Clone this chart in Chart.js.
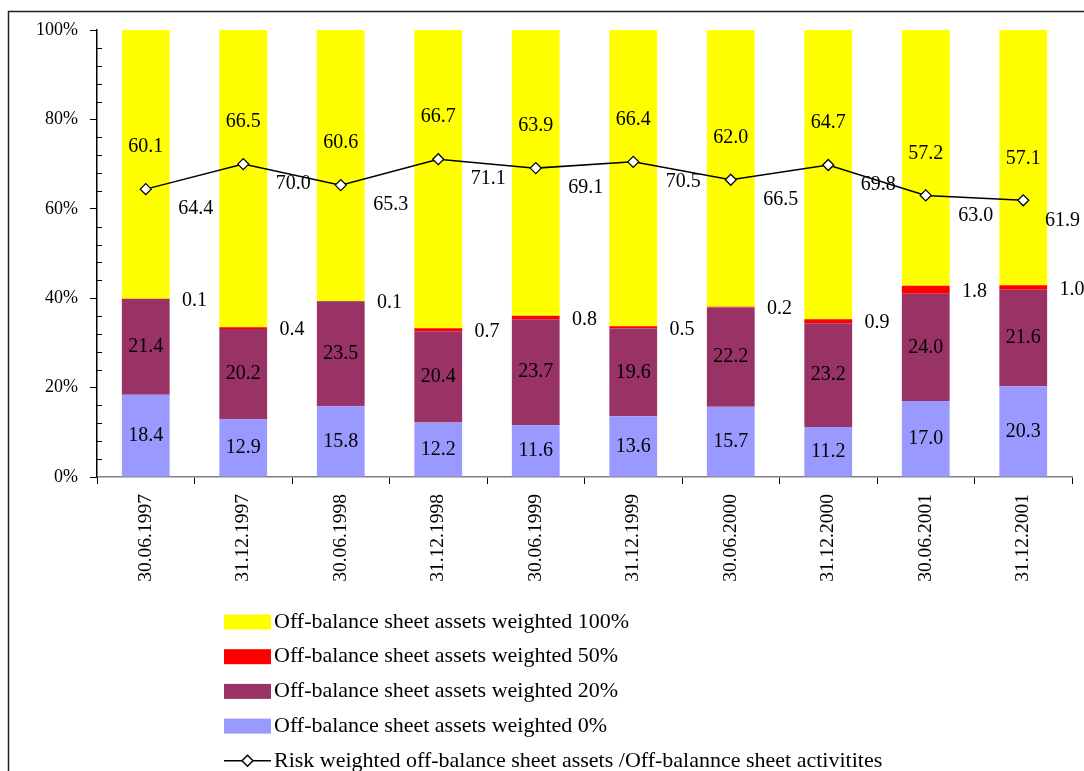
<!DOCTYPE html>
<html>
<head>
<meta charset="utf-8">
<script src="https://cdn.jsdelivr.net/npm/chart.js@4.4.1/dist/chart.umd.min.js"></script>
<style>
  html, body { margin: 0; padding: 0; background: #fff; }
  canvas { display: block; }
</style>
</head>
<body>
<canvas id="chart" width="1084" height="771"></canvas>
<script>
// reporting dates
const dates = ["30.06.1997", "31.12.1997", "30.06.1998", "31.12.1998", "30.06.1999",
               "31.12.1999", "30.06.2000", "31.12.2000", "30.06.2001", "31.12.2001"];

// structure of off-balance sheet assets by risk weight, %
const weighted0   = [18.4, 12.9, 15.8, 12.2, 11.6, 13.6, 15.7, 11.2, 17.0, 20.3];
const weighted20  = [21.4, 20.2, 23.5, 20.4, 23.7, 19.6, 22.2, 23.2, 24.0, 21.6];
const weighted50  = [0.1, 0.4, 0.1, 0.7, 0.8, 0.5, 0.2, 0.9, 1.8, 1.0];
const weighted100 = [60.1, 66.5, 60.6, 66.7, 63.9, 66.4, 62.0, 64.7, 57.2, 57.1];

// risk weighted / total off-balance sheet activities, %
const riskRatio = [64.4, 70.0, 65.3, 71.1, 69.1, 70.5, 66.5, 69.8, 63.0, 61.9];

const SERIF = '"Liberation Serif", "Times New Roman", serif';

// frame round the chart (only top and left edge are in view)
const framePlugin = {
  id: 'frame',
  beforeDraw(chart) {
    const ctx = chart.ctx;
    ctx.save();
    ctx.strokeStyle = '#222';
    ctx.lineWidth = 1.5;
    ctx.beginPath();
    ctx.moveTo(8.5, chart.height);
    ctx.lineTo(8.5, 11.5);
    ctx.lineTo(chart.width, 11.5);
    ctx.stroke();
    ctx.restore();
  }
};

// small inside ticks every 4% on the value axis
const minorTicks = {
  id: 'minorTicks',
  afterDraw(chart) {
    const y = chart.scales.y;
    const ctx = chart.ctx;
    ctx.save();
    ctx.strokeStyle = '#000';
    ctx.lineWidth = 1;
    for (let v = 4; v < 100; v += 4) {
      if (v % 20 === 0) continue;
      const py = Math.round(y.getPixelForValue(v)) + 0.5;
      ctx.beginPath();
      ctx.moveTo(y.right, py);
      ctx.lineTo(y.right + 5, py);
      ctx.stroke();
    }
    ctx.restore();
  }
};

// value labels
const valueLabels = {
  id: 'valueLabels',
  afterDatasetsDraw(chart) {
    const ctx = chart.ctx;
    const lineMeta = chart.getDatasetMeta(4);
    const half = (chart.scales.x.getPixelForTick(1) - chart.scales.x.getPixelForTick(0)) / 2;
    ctx.save();
    ctx.font = '20px ' + SERIF;
    ctx.fillStyle = '#000';
    ctx.textAlign = 'center';
    ctx.textBaseline = 'middle';
    chart.data.datasets.forEach((ds, di) => {
      const meta = chart.getDatasetMeta(di);
      meta.data.forEach((el, i) => {
        const text = ds.data[i].toFixed(1);
        const p = el.getProps(['x', 'y', 'base'], true);
        let x = p.x, y;
        if (ds.type === 'line') {
          const w = ctx.measureText(text).width;
          x = Math.min(p.x + 50, chart.width - w / 2 - 4);
          y = p.y + 20;
        } else if (ds.labelPlace === 'side') {
          x += half; y = (p.y + p.base) / 2 + 2;
        } else if (ds.labelPlace === 'top') {
          y = lineMeta.data[i].y - 42;
        } else {
          y = (p.y + p.base) / 2;
        }
        ctx.fillText(text, x, y);
      });
    });
    ctx.restore();
  }
};

// vertical legend under the axis
const legendList = {
  id: 'legendList',
  afterDraw(chart) {
    const ctx = chart.ctx;
    const ds = chart.data.datasets;
    const items = [ds[3], ds[2], ds[1], ds[0], ds[4]];
    ctx.save();
    ctx.font = '22px ' + SERIF;
    ctx.textBaseline = 'middle';
    ctx.textAlign = 'left';
    items.forEach((d, i) => {
      const cy = 622 + i * 34.7;
      if (d.type === 'line') {
        ctx.strokeStyle = '#000';
        ctx.lineWidth = 1.5;
        ctx.beginPath();
        ctx.moveTo(224, cy);
        ctx.lineTo(271, cy);
        ctx.stroke();
        ctx.fillStyle = '#fff';
        ctx.beginPath();
        ctx.moveTo(247.5, cy - 5.5);
        ctx.lineTo(253, cy);
        ctx.lineTo(247.5, cy + 5.5);
        ctx.lineTo(242, cy);
        ctx.closePath();
        ctx.fill();
        ctx.stroke();
      } else {
        ctx.fillStyle = d.backgroundColor;
        ctx.fillRect(224, cy - 7.5, 47, 15);
      }
      ctx.fillStyle = '#000';
      ctx.fillText(d.label, 274, cy);
    });
    ctx.restore();
  }
};

new Chart(document.getElementById('chart'), {
  type: 'bar',
  data: {
    labels: dates,
    datasets: [
      { label: 'Off-balance sheet assets weighted 0%', data: weighted0,
        backgroundColor: '#9999FF', stack: 'assets' },
      { label: 'Off-balance sheet assets weighted 20%', data: weighted20,
        backgroundColor: '#993366', stack: 'assets' },
      { label: 'Off-balance sheet assets weighted 50%', data: weighted50,
        backgroundColor: '#FF0000', stack: 'assets', labelPlace: 'side' },
      { label: 'Off-balance sheet assets weighted 100%', data: weighted100,
        backgroundColor: '#FFFF00', stack: 'assets', labelPlace: 'top' },
      { type: 'line', label: 'Risk weighted off-balance sheet assets /Off-balannce sheet activitites',
        data: riskRatio, stack: 'ratio', order: -1,
        borderColor: '#000', borderWidth: 1.5, tension: 0,
        pointStyle: 'rectRot', pointRadius: 5.5, pointBackgroundColor: '#fff',
        pointBorderColor: '#000', pointBorderWidth: 1.3 }
    ]
  },
  options: {
    responsive: false,
    animation: false,
    layout: { padding: { top: 30, right: 12, left: 0, bottom: 0 } },
    datasets: { bar: { barPercentage: 0.49, categoryPercentage: 1 } },
    plugins: {
      legend: { display: false },
      tooltip: { enabled: false }
    },
    scales: {
      x: {
        stacked: true,
        grid: { offset: true, drawOnChartArea: false, tickLength: 7, color: '#000' },
        border: { color: '#808080', width: 1.5 },
        ticks: { minRotation: 90, maxRotation: 90, padding: 10, color: '#000',
                 font: { family: SERIF, size: 19.5 } },
        afterFit(s) { s.height = 294; }
      },
      y: {
        stacked: true,
        min: 0, max: 100,
        grid: { drawOnChartArea: false, tickLength: 7, color: '#000' },
        border: { color: '#000', width: 1.5 },
        ticks: { stepSize: 20, padding: 12, color: '#000',
                 font: { family: SERIF, size: 18 },
                 callback: v => v + '%' },
        afterFit(s) { s.width = 97; }
      }
    }
  },
  plugins: [framePlugin, minorTicks, valueLabels, legendList]
});
</script>
</body>
</html>
